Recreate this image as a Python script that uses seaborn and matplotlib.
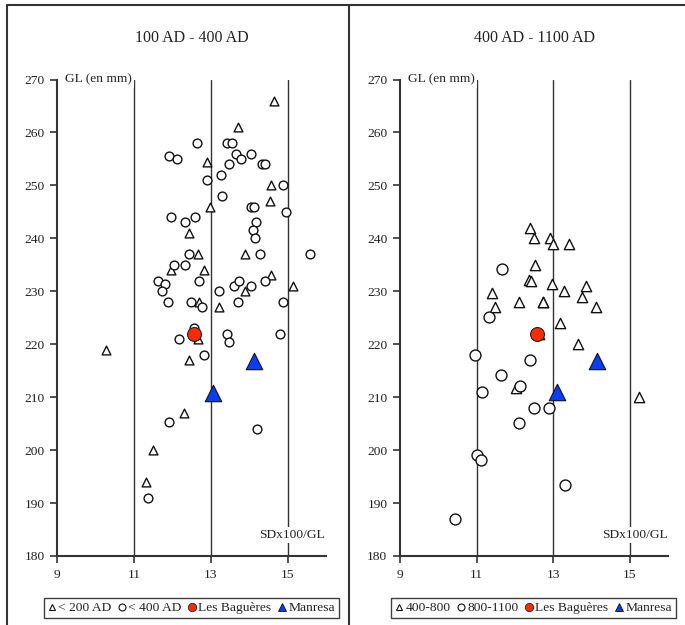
import matplotlib
matplotlib.use("Agg")
import matplotlib.pyplot as plt
import seaborn as sns
import pandas as pd
from matplotlib.lines import Line2D

# ---------------- data ----------------
# Panel 1: 100 AD - 400 AD
p1_tri_x = [14.64, 13.70, 12.90, 14.57, 12.98, 14.55, 12.43, 12.66, 13.90, 11.96, 12.81,
            12.70, 13.20, 13.90, 14.57, 15.13, 12.66, 10.27, 12.44, 12.29, 11.49, 11.32]
p1_tri_y = [266, 261, 254.5, 250, 246, 247, 241, 237, 237, 234, 234,
            228, 227, 230, 233, 231, 221, 219, 217, 207, 200, 194]
p1_cir_x = [12.63, 13.43, 13.54, 11.92, 12.13, 13.66, 13.79, 14.04, 13.48, 14.32, 14.40,
            12.89, 13.27, 13.29, 14.87, 14.04, 14.13, 14.95, 11.96, 12.33, 12.60, 14.18,
            14.11, 14.16, 12.44, 14.28, 15.59, 12.03, 12.33, 11.63, 11.80, 11.72, 12.70,
            11.88, 12.48, 12.76, 13.20, 13.61, 13.73, 13.72, 14.04, 14.41, 14.88, 12.55,
            12.16, 13.41, 13.46, 14.80, 12.83, 11.92, 14.19, 11.36]
p1_cir_y = [258, 258, 258, 255.5, 255, 256, 255, 256, 254, 254, 254,
            251, 252, 248, 250, 246, 246, 245, 244, 243, 244, 243,
            241.5, 240, 237, 237, 237, 235, 235, 232, 231.3, 230, 232,
            228, 228, 227, 230, 231, 232, 228, 231, 232, 228, 223,
            221, 222, 220.5, 222, 218, 205.3, 204, 191]
p1_bag_x = [12.56]
p1_bag_y = [222]
p1_man_x = [13.06, 14.13]
p1_man_y = [210.8, 216.9]

# Panel 2: 400 AD - 1100 AD
p2_tri_x = [12.40, 12.50, 12.91, 12.98, 13.41, 12.51, 12.36, 12.41, 12.97, 13.28, 11.41,
            13.86, 13.76, 11.47, 12.11, 12.72, 12.74, 14.11, 13.17, 13.64, 12.62, 12.03, 15.24]
p2_tri_y = [242, 240, 240, 239, 239, 235, 232.2, 232, 231.4, 230, 229.6,
            231, 229, 227, 228, 228, 228, 227, 224, 220, 222, 211.7, 210]
p2_cir_x = [11.67, 11.33, 10.96, 12.40, 11.64, 12.13, 11.15, 12.50, 12.90, 12.10,
            11.01, 11.12, 13.30, 10.43]
p2_cir_y = [234.2, 225.1, 218, 217, 214.1, 212.1, 211, 208, 208, 205.1,
            199.1, 198.1, 193.5, 187]
p2_bag_x = [12.57]
p2_bag_y = [222]
p2_man_x = [13.09, 14.15]
p2_man_y = [210.9, 216.9]

titles = ["100 AD - 400 AD", "400 AD - 1100 AD"]
legend_labels = [["< 200 AD", "< 400 AD", "Les Baguères", "Manresa"],
                 ["400-800", "800-1100", "Les Baguères", "Manresa"]]
x_ticks = [9, 11, 13, 15]
y_ticks = [180, 190, 200, 210, 220, 230, 240, 250, 260, 270]
v_lines = [11, 13, 15]

RED = "#FF2A00"
BLUE = "#0A3CFF"
INK = "#222222"

sns.set_style("white")
plt.rcParams["font.family"] = ["Liberation Serif", "DejaVu Serif"]
plt.rcParams["font.size"] = 9.7

fig = plt.figure(figsize=(6.85, 6.25), dpi=100)

positions = [[57.3 / 685, 1 - 556 / 625, 268.7 / 685, 476.5 / 625],
             [400 / 685, 1 - 556 / 625, 268.3 / 685, 476.5 / 625]]
title_x = [0.2796, 0.781]
legend_x = [0.2796, 0.779]

panels = [
    (p1_tri_x, p1_tri_y, p1_cir_x, p1_cir_y, p1_bag_x, p1_bag_y, p1_man_x, p1_man_y, 40, 40, 100, 140),
    (p2_tri_x, p2_tri_y, p2_cir_x, p2_cir_y, p2_bag_x, p2_bag_y, p2_man_x, p2_man_y, 55, 62, 100, 140),
]

for i, (tx, ty, cx, cy, bx, by, mx, my, s_tri, s_cir, s_bag, s_man) in enumerate(panels):
    ax = fig.add_axes(positions[i])
    ax.set_facecolor("white")
    for v in v_lines:
        ax.axvline(v, color="#333333", lw=1.0, zorder=1)

    df_t = pd.DataFrame({"x": tx, "y": ty})
    df_c = pd.DataFrame({"x": cx, "y": cy})
    df_b = pd.DataFrame({"x": bx, "y": by})
    df_m = pd.DataFrame({"x": mx, "y": my})
    sns.scatterplot(data=df_t, x="x", y="y", ax=ax, marker="^", s=s_tri,
                    facecolor="white", edgecolor="#111111", linewidth=1.0, zorder=3)
    sns.scatterplot(data=df_c, x="x", y="y", ax=ax, marker="o", s=s_cir,
                    facecolor="white", edgecolor="#111111", linewidth=1.0, zorder=3)
    sns.scatterplot(data=df_b, x="x", y="y", ax=ax, marker="o", s=s_bag,
                    color=RED, edgecolor="#222222", linewidth=0.8, zorder=4)
    sns.scatterplot(data=df_m, x="x", y="y", ax=ax, marker="^", s=s_man,
                    color=BLUE, edgecolor="#111111", linewidth=0.8, zorder=4)

    ax.set_xlim(9, 16)
    ax.set_ylim(180, 270)
    ax.set_xticks(x_ticks)
    ax.set_yticks(y_ticks)
    ax.set_xlabel("")
    ax.set_ylabel("")
    for side in ["top", "right"]:
        ax.spines[side].set_visible(False)
    for side in ["left", "bottom"]:
        ax.spines[side].set_color("#333333")
        ax.spines[side].set_linewidth(1.5)
    ax.tick_params(direction="out", length=5, width=1.2, color="#333333",
                   labelsize=9.7, labelcolor=INK, pad=4,
                   left=True, bottom=True)

    ax.text(9.2, 270, "GL (en mm)", ha="left", va="center", fontsize=9.7, color=INK,
            zorder=5, bbox=dict(facecolor="white", edgecolor="none", pad=1.5))
    ax.text(15.12, 184.0, "SDx100/GL", ha="center", va="center", fontsize=9.7, color=INK,
            zorder=5, bbox=dict(facecolor="white", edgecolor="none", pad=1.5))

    fig.text(title_x[i], 0.939, titles[i], ha="center", va="center", fontsize=11.5, color=INK)

    handles = [
        Line2D([], [], ls="none", marker="^", markersize=5, markerfacecolor="white",
               markeredgecolor="#111111", markeredgewidth=0.8),
        Line2D([], [], ls="none", marker="o", markersize=5, markerfacecolor="white",
               markeredgecolor="#111111", markeredgewidth=0.8),
        Line2D([], [], ls="none", marker="o", markersize=6, markerfacecolor=RED,
               markeredgecolor="#222222", markeredgewidth=0.6),
        Line2D([], [], ls="none", marker="^", markersize=6, markerfacecolor=BLUE,
               markeredgecolor="#111111", markeredgewidth=0.6),
    ]
    leg = fig.legend(handles, legend_labels[i], loc="center",
                     bbox_to_anchor=(legend_x[i], 1 - 608 / 625), ncol=4,
                     frameon=True, fancybox=False, fontsize=9.7,
                     handlelength=0.6, handletextpad=0.15, columnspacing=0.5,
                     borderpad=0.3, borderaxespad=0)
    leg.get_frame().set_edgecolor("#111111")
    leg.get_frame().set_linewidth(1.0)
    for t in leg.get_texts():
        t.set_color(INK)

# panel frames
frame_kw = dict(color="#333333", lw=1.5, transform=fig.transFigure)
fig.add_artist(Line2D([7 / 685, 1.0], [1 - 5 / 625, 1 - 5 / 625], **frame_kw))
fig.add_artist(Line2D([7 / 685, 7 / 685], [0, 1 - 5 / 625], **frame_kw))
fig.add_artist(Line2D([349 / 685, 349 / 685], [0, 1 - 5 / 625], **frame_kw))

fig.savefig("out.png", dpi=100, facecolor="white")
